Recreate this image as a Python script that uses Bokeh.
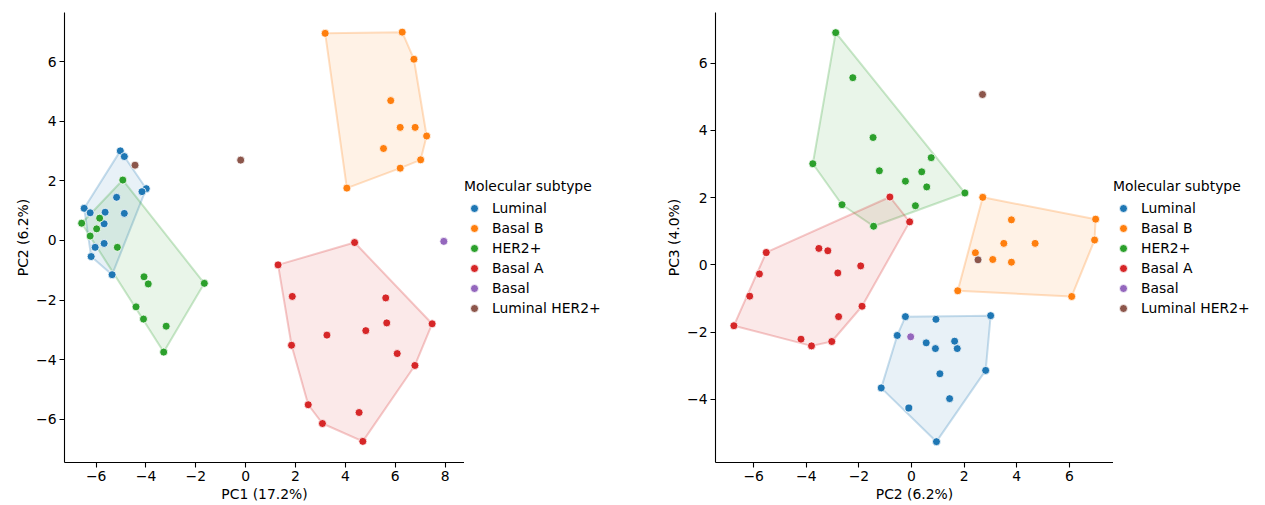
from bokeh.plotting import figure
from bokeh.layouts import row
from bokeh.models import Legend, LegendItem, FixedTicker, Range1d
from bokeh.embed import file_html
from bokeh.resources import INLINE

categories = ["Luminal", "Basal B", "HER2+", "Basal A", "Basal", "Luminal HER2+"]
colors = ["#1f77b4", "#ff7f0e", "#2ca02c", "#d62728", "#9467bd", "#8c564b"]

# per-sample subtype and principal component scores
subtype = (["Luminal"] * 14 + ["Basal B"] * 11 + ["HER2+"] * 13 +
           ["Basal A"] * 15 + ["Basal"] * 1 + ["Luminal HER2+"] * 2)

pc1 = [-5.03, -4.87, -3.99, -4.16, -5.18, -6.48, -5.64, -6.24, -4.87, -5.68, -5.68, -6.04, -6.20, -5.36,
       3.19, 6.28, 6.75, 5.82, 6.20, 6.80, 7.26, 5.53, 7.02, 6.20, 4.06,
       -4.93, -5.86, -6.58, -5.98, -6.24, -5.15, -4.08, -1.66, -3.91, -4.40, -4.10, -3.19, -3.29,
       4.37, 1.30, 1.87, 5.62, 5.66, 7.48, 4.82, 3.26, 1.84, 6.08, 6.79, 2.51, 4.55, 3.08, 4.70,
       7.95,
       -4.44, -0.20]

pc2 = [3.01, 2.82, 1.74, 1.64, 1.45, 1.08, 0.95, 0.93, 0.91, 0.56, -0.10, -0.23, -0.54, -1.15,
       6.96, 7.00, 6.09, 4.70, 3.80, 3.80, 3.51, 3.09, 2.71, 2.43, 1.76,
       2.03, 0.75, 0.58, 0.39, 0.15, -0.23, -1.22, -1.44, -1.46, -2.23, -2.64, -2.88, -3.75,
       -0.07, -0.82, -1.88, -1.93, -2.77, -2.80, -3.03, -3.18, -3.52, -3.80, -4.20, -5.52, -5.78, -6.15, -6.75,
       -0.03,
       2.53, 2.70]

pc3 = [-1.51, -3.14, -2.49, -2.27, -3.98, -3.24, -5.26, -1.62, -2.49, -2.32, -4.26, -1.54, -2.10, -3.66,
       0.74, 1.36, -0.94, 0.64, 0.08, 1.34, 0.64, 0.16, 2.01, 0.36, -0.77,
       2.14, 3.19, 2.32, 2.77, 1.76, 2.49, 2.80, 1.15, 3.79, 5.57, 1.79, 6.91, 3.01,
       1.28, 2.02, -1.23, -0.03, -1.54, -0.24, -2.28, 0.42, 0.49, -2.41, -2.21, 0.37, -0.27, -0.93, -1.81,
       -2.14,
       0.15, 5.07]

axis_titles = {"pc1": "PC1 (17.2%)", "pc2": "PC2 (6.2%)", "pc3": "PC3 (4.0%)"}
scores = {"pc1": pc1, "pc2": pc2, "pc3": pc3}
legend_title = "Molecular subtype"

FONT = "DejaVu Sans"
FS = "13.9px"
MARKER = dict(size=8, line_color="white", line_width=0.8)


def convex_hull(xs, ys):
    pts = sorted(set(zip(xs, ys)))
    if len(pts) < 3:
        return pts

    def cross(o, a, b):
        return (a[0] - o[0]) * (b[1] - o[1]) - (a[1] - o[1]) * (b[0] - o[0])

    lower = []
    for pt in pts:
        while len(lower) >= 2 and cross(lower[-2], lower[-1], pt) <= 0:
            lower.pop()
        lower.append(pt)
    upper = []
    for pt in reversed(pts):
        while len(upper) >= 2 and cross(upper[-2], upper[-1], pt) <= 0:
            upper.pop()
        upper.append(pt)
    return lower[:-1] + upper[:-1]


def minus(t):
    return str(t).replace("-", "\u2212")


def make_fig(xk, yk, xr, yr, xticks, yticks, frame_w, border_left):
    p = figure(frame_width=frame_w, frame_height=450,
               x_range=Range1d(*xr), y_range=Range1d(*yr),
               output_backend="svg", toolbar_location=None,
               min_border_left=border_left, min_border_right=0,
               min_border_top=12, min_border_bottom=0)
    p.grid.visible = False
    p.outline_line_color = None
    p.background_fill_color = "white"

    for ax, ticks, lab in ((p.xaxis[0], xticks, axis_titles[xk]), (p.yaxis[0], yticks, axis_titles[yk])):
        ax.ticker = FixedTicker(ticks=ticks, minor_ticks=[])
        ax.major_label_overrides = {t: minus(t) for t in ticks}
        ax.axis_label = lab
        ax.axis_label_text_font = FONT
        ax.axis_label_text_font_size = FS
        ax.axis_label_text_font_style = "normal"
        ax.axis_label_text_color = "black"
        ax.major_label_text_font = FONT
        ax.major_label_text_font_size = FS
        ax.major_label_text_color = "black"
        ax.axis_line_color = "black"
        ax.axis_line_width = 1.1
        ax.major_tick_line_color = "black"
        ax.major_tick_line_width = 1.1
        ax.major_tick_out = 5
        ax.major_tick_in = 0
        ax.minor_tick_line_color = None
        ax.major_label_standoff = 3
        ax.axis_label_standoff = 2

    xs_all = scores[xk]
    ys_all = scores[yk]
    for cat, col in zip(categories, colors):
        xs = [x for x, s in zip(xs_all, subtype) if s == cat]
        ys = [y for y, s in zip(ys_all, subtype) if s == cat]
        if len(xs) >= 3:
            h = convex_hull(xs, ys)
            p.patch([q[0] for q in h], [q[1] for q in h], fill_color=col, fill_alpha=0.1,
                    line_color=col, line_alpha=0.25, line_width=2)
    for cat, col in zip(categories, colors):
        xs = [x for x, s in zip(xs_all, subtype) if s == cat]
        ys = [y for y, s in zip(ys_all, subtype) if s == cat]
        p.scatter(xs, ys, fill_color=col, **MARKER)
    return p


def make_legend_panel(width):
    # a figure that only carries the legend (its swatch renderers lie outside its view)
    lp = figure(width=width, height=500, x_range=Range1d(0, 1), y_range=Range1d(0, 1),
                output_backend="svg", toolbar_location=None,
                x_axis_location=None, y_axis_location=None,
                min_border_left=0, min_border_right=0, min_border_top=0, min_border_bottom=0)
    lp.grid.visible = False
    lp.outline_line_color = None
    items = []
    for cat, col in zip(categories, colors):
        r = lp.scatter(x=[5], y=[5], fill_color=col, **MARKER)
        items.append(LegendItem(label=cat, renderers=[r]))
    leg = Legend(items=items, location=(0, 140), title=legend_title,
                 title_text_font=FONT, title_text_font_size=FS, title_text_font_style="normal",
                 title_text_color="black",
                 label_text_font=FONT, label_text_font_size=FS, label_text_color="black",
                 border_line_color=None, background_fill_alpha=0,
                 padding=0, margin=0, spacing=0,
                 glyph_width=20, glyph_height=20, label_height=20,
                 label_standoff=8, title_standoff=4)
    lp.add_layout(leg)
    return lp


p1 = make_fig("pc1", "pc2", (-7.27, 8.78), (-7.46, 7.66),
              [-6, -4, -2, 0, 2, 4, 6, 8], [-6, -4, -2, 0, 2, 4, 6],
              400, 64)
l1 = make_legend_panel(191)
p2 = make_fig("pc2", "pc3", (-7.45, 7.68), (-5.88, 7.51),
              [-6, -4, -2, 0, 2, 4, 6], [-4, -2, 0, 2, 4, 6],
              398, 60)
l2 = make_legend_panel(150)

layout = row(p1, l1, p2, l2)
open("out.html", "w").write(file_html(layout, INLINE))
